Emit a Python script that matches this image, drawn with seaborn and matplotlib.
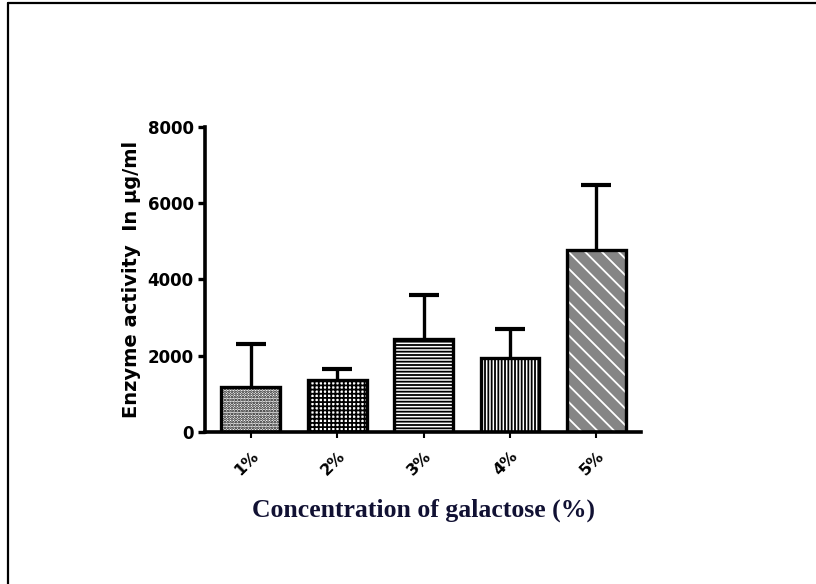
import matplotlib
matplotlib.use("Agg")
import matplotlib.pyplot as plt
from matplotlib.lines import Line2D
from matplotlib.patches import Rectangle
import seaborn as sns
import pandas as pd

categories = ["1%", "2%", "3%", "4%", "5%"]
activity = [1170, 1360, 2440, 1930, 4770]
activity_err = [1130, 290, 1150, 770, 1700]
hatches = ["......", "++++", "-----", "|||||", "\\\\"]
y_ticks = [0, 2000, 4000, 6000, 8000]

sns.set_theme(style="white")
plt.rcParams["font.family"] = ["DejaVu Sans"]
plt.rcParams["hatch.linewidth"] = 1.3

df = pd.DataFrame({"conc": categories, "activity": activity})

fig = plt.figure(figsize=(8.16, 5.84), dpi=100)
ax = fig.add_axes([0.2512, 0.2608, 0.786 - 0.2512, 0.7825 - 0.2608])

sns.barplot(data=df, x="conc", y="activity", ax=ax, errorbar=None,
            color="white", width=0.68, linewidth=2.4, edgecolor="black",
            zorder=2)

bars = list(ax.patches)
for i, patch in enumerate(bars):
    patch.set_hatch(hatches[i])
    if i == len(bars) - 1:
        # grey body with white diagonal stripes, black outline on top
        patch.set_facecolor("#858585")
        patch.set_edgecolor("white")
        patch.set_linewidth(0)
        ax.add_patch(Rectangle((patch.get_x(), patch.get_y()),
                               patch.get_width(), patch.get_height(),
                               fill=False, edgecolor="black",
                               linewidth=2.4, zorder=3))

xs = list(range(len(categories)))
_, caps, _ = ax.errorbar(xs, activity,
                         yerr=[[0] * len(activity), activity_err],
                         fmt="none", ecolor="black", elinewidth=2.4,
                         capsize=11, capthick=3, zorder=1)
# only the upper cap is shown
caps[0].set_visible(False)

ax.set_ylim(0, 8000)
ax.set_xlim(-0.53, 4.52)
ax.set_yticks(y_ticks)
ax.set_yticklabels([str(t) for t in y_ticks], fontsize=12,
                   fontweight="heavy")
ax.set_xticks(xs)
ax.set_xticklabels(categories, rotation=45, fontsize=11.5,
                   fontweight="heavy", ha="right", rotation_mode="anchor")

for side in ["top", "right"]:
    ax.spines[side].set_visible(False)
for side in ["left", "bottom"]:
    ax.spines[side].set_linewidth(2.6)
    ax.spines[side].set_color("black")

ax.tick_params(axis="y", direction="out", length=5, width=2.4,
               left=True, pad=3, colors="black")
ax.tick_params(axis="x", direction="out", length=4, width=1.5,
               bottom=True, pad=8, colors="black")

ax.set_ylabel("Enzyme activity  In µg/ml", fontsize=14,
              fontweight="heavy", color="black", labelpad=5)
ax.set_xlabel("Concentration of galactose (%)", fontsize=18.5,
              fontweight="bold", family=["Liberation Serif"],
              color="#111133", labelpad=15)

# page frame lines along the top and left edge
fig.add_artist(Line2D([8 / 816, 1.0], [1 - 3 / 584, 1 - 3 / 584],
                      transform=fig.transFigure, color="black", lw=1.6))
fig.add_artist(Line2D([8 / 816, 8 / 816], [0, 1 - 3 / 584],
                      transform=fig.transFigure, color="black", lw=1.6))

fig.savefig("out.png", dpi=100)
